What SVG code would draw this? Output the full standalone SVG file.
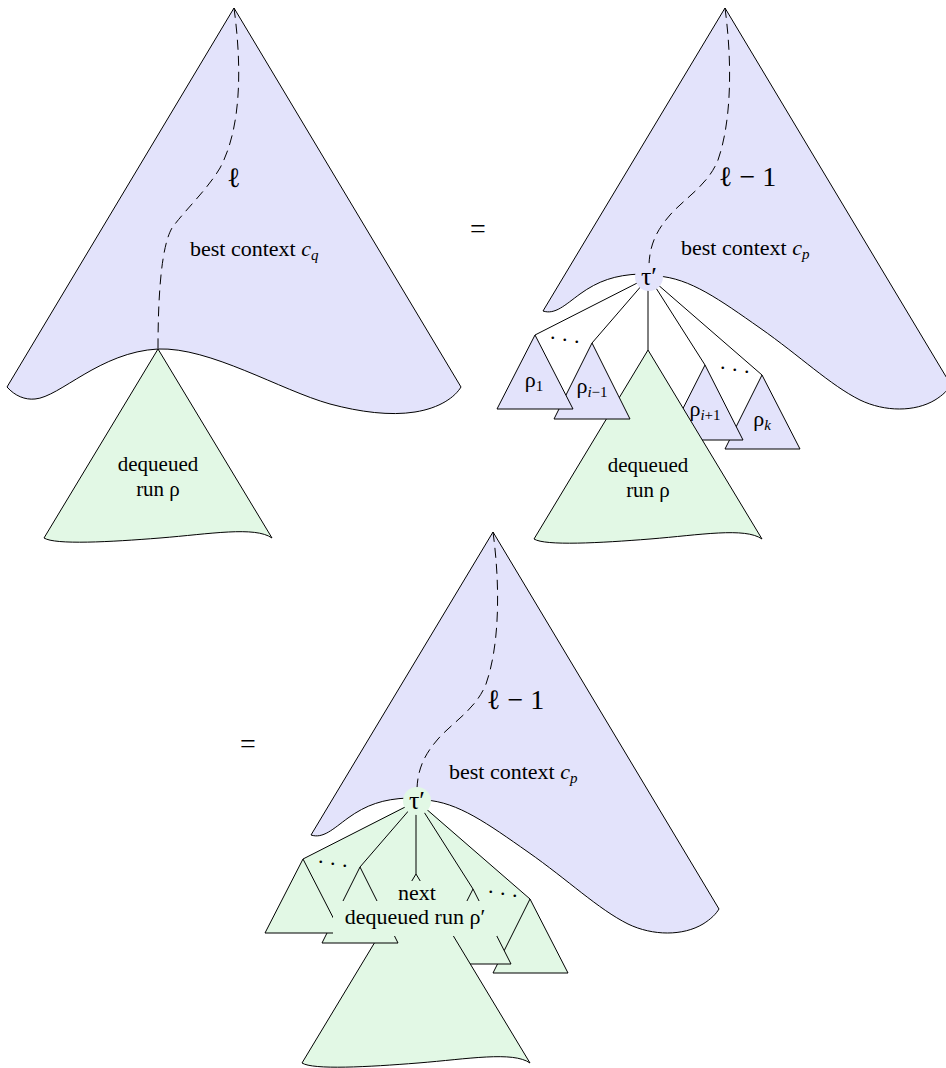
<svg xmlns="http://www.w3.org/2000/svg" width="946" height="1068" viewBox="0 0 946 1068">
<style>
.blue{fill:#E3E3FB;stroke:#000;stroke-width:1;stroke-linejoin:miter}
.green{fill:#E2F8E5;stroke:#000;stroke-width:1;stroke-linejoin:miter}
.gfill{fill:#E2F8E5;stroke:none}
.bfill{fill:#E3E3FB;stroke:none}
.edge line{stroke:#000;stroke-width:1;fill:none}
.dash{stroke:#000;stroke-width:1;fill:none;stroke-dasharray:10 6}
text{font-family:"Liberation Serif","DejaVu Serif",serif;fill:#000}
.t{font-size:22px}
.r{font-size:21px}
.m{font-size:28px}
.tau{font-size:26px}
.s{font-size:15px}
.i{font-style:italic}
.d{font-size:22px}
</style>
<defs>
<path id="runShape" d="M158,349 L272,538 C255,526 210,534 160,538 C110,542 55,545 44,538 Z"/>
<path id="ctxShape" d="M725,8 L951,385 C948,390 943,395 935,400 C915,412 885,412 860,400 C830,385 800,356 760,328 C720,300 690,278 657,276 L640,274 C615,275 598,281 580,294 C565,305 555,315 543,311 Z"/>
<path id="ctxDash" d="M725,8 C732,60 732,120 718,160 C708,185 685,198 670,215 C656,231 650,245 649,264"/>
</defs>
<rect width="946" height="1068" fill="#fff"/>

<!-- ===== Top-left ===== -->
<g id="tl-context">
<path class="blue" d="M234,8 L461,387 C455,397 440,408 415,412 C390,416 360,412 330,404 C280,390 210,347 158,349 C100,352 60,397 35,399 C25,400 15,396 7,387 Z"/>
<path class="dash" d="M234,8 C241,60 243,125 220,168 C207,190 185,210 172,228 C162,245 158,290 158,349"/>
<text class="m" x="234" y="187" text-anchor="middle">ℓ</text>
<text class="t" x="190" y="256">best context <tspan class="i">c</tspan><tspan class="i s" dy="4">q</tspan></text>
</g>
<g id="tl-run">
<use href="#runShape" class="green"/>
<text class="r" x="158" y="471" text-anchor="middle">dequeued</text>
<text class="r" x="158" y="496" text-anchor="middle">run ρ</text>
</g>

<g id="eq1"><text x="478" y="238" font-size="28" text-anchor="middle">=</text></g>

<!-- ===== Top-right ===== -->
<g id="tr-context">
<use href="#ctxShape" class="blue"/>
<use href="#ctxDash" class="dash"/>
<text class="m" x="719" y="186">ℓ − 1</text>
<text class="t" x="681" y="255">best context <tspan class="i">c</tspan><tspan class="i s" dy="4">p</tspan></text>
</g>
<g id="tr-connectors" class="edge">
<line x1="649" y1="277" x2="535" y2="335"/>
<line x1="649" y1="277" x2="592" y2="343"/>
<line x1="648" y1="277" x2="648" y2="350"/>
<line x1="649" y1="277" x2="705" y2="365"/>
<line x1="649" y1="277" x2="762" y2="375"/>
</g>
<g id="tr-dots">
<text class="d" x="550 562 574" y="338.5 340.5 342.5">...</text>
<text class="d" x="720 732 744" y="368.5 370.5 372.5">...</text>
</g>
<g id="tr-rho-k">
<path class="blue" d="M762,375 L800,449 L725,449 Z"/>
<text class="t" x="762" y="426" text-anchor="middle">ρ<tspan class="i s" dy="4">k</tspan></text>
</g>
<g id="tr-rho-i1">
<path class="blue" d="M705,365 L743,440 L667,440 Z"/>
<text class="t" x="705" y="416" text-anchor="middle">ρ<tspan class="s" dy="4"><tspan class="i">i</tspan>+1</tspan></text>
</g>
<g id="tr-run">
<use href="#runShape" class="green" transform="translate(490,1)"/>
<text class="r" x="648" y="472" text-anchor="middle">dequeued</text>
<text class="r" x="648" y="497" text-anchor="middle">run ρ</text>
</g>
<g id="tr-rho-im1">
<path class="blue" d="M592,343 L630,419 L554,419 Z"/>
<text class="t" x="592" y="393" text-anchor="middle">ρ<tspan class="s" dy="4"><tspan class="i">i</tspan>−1</tspan></text>
</g>
<g id="tr-rho-1">
<path class="blue" d="M535,335 L573,409 L497,409 Z"/>
<text class="t" x="534" y="387" text-anchor="middle">ρ<tspan class="s" dy="4">1</tspan></text>
</g>
<g id="tr-tau">
<circle cx="649" cy="277" r="14" class="bfill"/>
<text class="tau" x="649" y="285" text-anchor="middle">τ′</text>
</g>

<g id="eq2"><text x="248" y="753" font-size="28" text-anchor="middle">=</text></g>

<!-- ===== Bottom ===== -->
<g id="bottom" transform="translate(-232,524)">
<g id="b-context">
<use href="#ctxShape" class="blue"/>
<use href="#ctxDash" class="dash"/>
<text class="m" x="719" y="185">ℓ − 1</text>
<text class="t" x="681" y="255">best context <tspan class="i">c</tspan><tspan class="i s" dy="4">p</tspan></text>
</g>
<g id="b-fan"><path class="gfill" d="M649,276 L535,335 L497,409 L573,409 L606,418 L702,439 L743,440 L800,449 L762,375 Z"/></g>
<g id="b-connectors" class="edge">
<line x1="649" y1="277" x2="535" y2="335"/>
<line x1="649" y1="277" x2="592" y2="343"/>
<line x1="648" y1="277" x2="648" y2="350"/>
<line x1="649" y1="277" x2="705" y2="365"/>
<line x1="649" y1="277" x2="762" y2="375"/>
</g>
<g id="b-dots">
<text class="d" x="550 562 574" y="338.5 340.5 342.5">...</text>
<text class="d" x="720 732 744" y="368.5 370.5 372.5">...</text>
</g>
<g id="b-rho-k"><path class="green" d="M762,375 L800,449 L725,449 Z"/></g>
<g id="b-rho-i1"><path class="green" d="M705,365 L743,440 L667,440 Z"/></g>
<g id="b-run"><use href="#runShape" class="green" transform="translate(490,1)"/></g>
<g id="b-rho-im1"><path class="green" d="M592,343 L630,419 L554,419 Z"/></g>
<g id="b-rho-1"><path class="green" d="M535,335 L573,409 L497,409 Z"/></g>
<g id="b-label">
<rect class="gfill" x="624" y="357" width="50" height="22"/>
<rect class="gfill" x="565" y="377" width="164" height="35"/>
<text class="t" x="649" y="376" text-anchor="middle">next</text>
<text class="t" x="647" y="400" text-anchor="middle">dequeued run ρ′</text>
</g>
<g id="b-tau">
<circle cx="649" cy="277" r="14" class="gfill"/>
<text class="tau" x="649" y="285" text-anchor="middle">τ′</text>
</g>
</g>
</svg>
